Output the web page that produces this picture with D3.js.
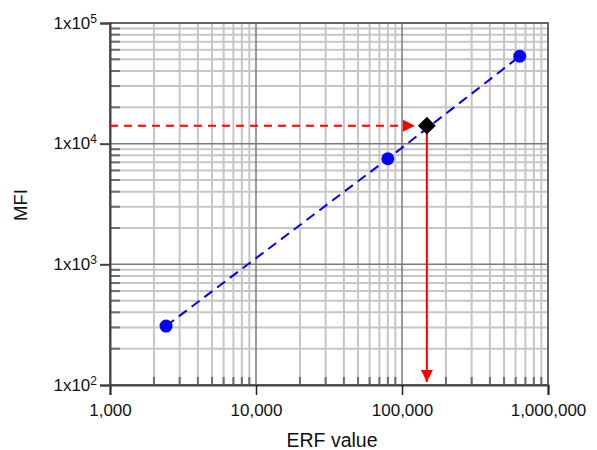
<!DOCTYPE html>
<html>
<head>
<meta charset="utf-8">
<script src="https://cdn.jsdelivr.net/npm/d3@7"></script>
<style>
	body { margin: 0; background: #fff; }
	text { font-family: "Liberation Sans", Arial, sans-serif; }
</style>
</head>
<body>
<svg id="chart" width="597" height="450"></svg>
<script>
// calibration points (ERF value, MFI)
var erfValues = [2420, 80000, 640000];
var mfiValues = [308, 7500, 53000];
// unknown sample
var sampleErf = 148000;
var sampleMfi = 14100;

var xTicks = [1e3, 1e4, 1e5, 1e6];
var xTickLabels = ["1,000", "10,000", "100,000", "1,000,000"];
var yTicks = [1e2, 1e3, 1e4, 1e5];
var yTickExp = ["2", "3", "4", "5"];

var svg = d3.select("#chart");

var x = d3.scaleLog().domain([1e3, 1e6]).range([110, 548]);
var y = d3.scaleLog().domain([1e2, 1e5]).range([385, 23]);

// minor positions: 2..9 of each decade
function minors(lo, hi) {
	var out = [];
	for (var d = lo; d < hi; d *= 10) {
		for (var k = 2; k <= 9; k++) out.push(d * k);
	}
	return out;
}
var xMinor = minors(1e3, 1e6);
var yMinor = minors(1e2, 1e5);

var grid = svg.append("g");

// light minor grid
grid.selectAll(".vminor")
	.data(xMinor)
	.enter()
	.append("line")
	.attr("x1", function(d) { return x(d); })
	.attr("x2", function(d) { return x(d); })
	.attr("y1", y(1e5))
	.attr("y2", y(1e2))
	.style("stroke", "#c6c6c6")
	.style("stroke-width", 2);

grid.selectAll(".hminor")
	.data(yMinor)
	.enter()
	.append("line")
	.attr("x1", x(1e3))
	.attr("x2", x(1e6))
	.attr("y1", function(d) { return y(d); })
	.attr("y2", function(d) { return y(d); })
	.style("stroke", "#c6c6c6")
	.style("stroke-width", 2);

// darker major grid
grid.selectAll(".vmajor")
	.data([1e4, 1e5])
	.enter()
	.append("line")
	.attr("x1", function(d) { return x(d); })
	.attr("x2", function(d) { return x(d); })
	.attr("y1", y(1e5))
	.attr("y2", y(1e2))
	.style("stroke", "#7a7a7a")
	.style("stroke-width", 1.5);

grid.selectAll(".hmajor")
	.data([1e3, 1e4])
	.enter()
	.append("line")
	.attr("x1", x(1e3))
	.attr("x2", x(1e6))
	.attr("y1", function(d) { return y(d); })
	.attr("y2", function(d) { return y(d); })
	.style("stroke", "#7a7a7a")
	.style("stroke-width", 1.5);

// short minor tick marks inside the left and bottom axes
grid.selectAll(".yminortick")
	.data(yMinor)
	.enter()
	.append("line")
	.attr("x1", x(1e3))
	.attr("x2", x(1e3) + 10)
	.attr("y1", function(d) { return y(d); })
	.attr("y2", function(d) { return y(d); })
	.style("stroke", "#6e6e6e")
	.style("stroke-width", 2);

grid.selectAll(".xminortick")
	.data(xMinor)
	.enter()
	.append("line")
	.attr("x1", function(d) { return x(d); })
	.attr("x2", function(d) { return x(d); })
	.attr("y1", y(1e2))
	.attr("y2", y(1e2) - 8)
	.style("stroke", "#6e6e6e")
	.style("stroke-width", 2);

// frame
svg.append("rect")
	.attr("x", x(1e3))
	.attr("y", y(1e5))
	.attr("width", x(1e6) - x(1e3))
	.attr("height", y(1e2) - y(1e5))
	.style("fill", "none")
	.style("stroke", "#666")
	.style("stroke-width", 2);

// axes
var xAxis = d3.axisBottom(x)
	.tickValues(xTicks)
	.tickFormat(function(d, i) { return xTickLabels[i]; })
	.tickSize(10)
	.tickPadding(9);

var gx = svg.append("g")
	.attr("transform", "translate(0," + y(1e2) + ")")
	.call(xAxis);
gx.select(".domain").style("stroke", "#444").style("stroke-width", 2);
gx.selectAll(".tick line").style("stroke", "#222").style("stroke-width", 1.5);
gx.selectAll(".tick text").style("font-size", "17px").style("fill", "#111");

var yAxis = d3.axisLeft(y)
	.tickValues(yTicks)
	.tickFormat("")
	.tickSize(10);

var gy = svg.append("g")
	.attr("transform", "translate(" + x(1e3) + ",0)")
	.call(yAxis);
gy.select(".domain").style("stroke", "#444").style("stroke-width", 2);
gy.selectAll(".tick line").style("stroke", "#444").style("stroke-width", 2);

var yLab = gy.selectAll(".tick")
	.append("text")
	.attr("x", -13)
	.attr("dy", "0.3em")
	.style("text-anchor", "end")
	.style("font-size", "17px")
	.style("fill", "#111");
yLab.append("tspan").text("1x10");
yLab.append("tspan")
	.attr("dy", "-0.5em")
	.style("font-size", "12px")
	.text(function(d, i) { return yTickExp[i]; });

// axis titles
svg.append("text")
	.attr("x", 332)
	.attr("y", 447)
	.style("text-anchor", "middle")
	.style("font-size", "19.5px")
	.style("fill", "#111")
	.text("ERF value");

svg.append("text")
	.attr("transform", "translate(27," + 205 + ") rotate(-90)")
	.style("text-anchor", "middle")
	.style("font-size", "18.5px")
	.style("fill", "#111")
	.text("MFI");

// arrow markers
var defs = svg.append("defs");
defs.append("marker")
	.attr("id", "redhead")
	.attr("viewBox", "0 0 10 10")
	.attr("refX", 10)
	.attr("refY", 5)
	.attr("markerWidth", 14)
	.attr("markerHeight", 12)
	.attr("markerUnits", "userSpaceOnUse")
	.attr("orient", "auto")
	.append("path")
	.attr("d", "M0,0L10,5L0,10Z")
	.style("fill", "#f00");

// red dashed lookup from MFI to curve
svg.append("line")
	.attr("x1", x(1e3))
	.attr("x2", x(sampleErf) - 12)
	.attr("y1", y(sampleMfi))
	.attr("y2", y(sampleMfi))
	.style("stroke", "#f00")
	.style("stroke-width", 2)
	.style("stroke-dasharray", "8,6")
	.attr("marker-end", "url(#redhead)");

// red solid drop to ERF axis
svg.append("line")
	.attr("x1", x(sampleErf))
	.attr("x2", x(sampleErf))
	.attr("y1", y(sampleMfi))
	.attr("y2", y(1e2) - 3)
	.style("stroke", "#f00")
	.style("stroke-width", 2)
	.attr("marker-end", "url(#redhead)");

// calibration line
var pts = erfValues.map(function(d, i) { return [d, mfiValues[i]]; });
svg.append("path")
	.datum(pts)
	.attr("d", d3.line()
		.x(function(d) { return x(d[0]); })
		.y(function(d) { return y(d[1]); }))
	.style("fill", "none")
	.style("stroke", "#00f")
	.style("stroke-width", 2)
	.style("stroke-dasharray", "10,6");

svg.selectAll(".calib")
	.data(pts)
	.enter()
	.append("circle")
	.attr("cx", function(d) { return x(d[0]); })
	.attr("cy", function(d) { return y(d[1]); })
	.attr("r", 6.5)
	.style("fill", "#00f");

// sample diamond
svg.append("path")
	.attr("d", d3.symbol().type(d3.symbolSquare).size(160))
	.attr("transform", "translate(" + x(sampleErf) + "," + y(sampleMfi) + ") rotate(45)")
	.style("fill", "#000");
</script>
</body>
</html>
